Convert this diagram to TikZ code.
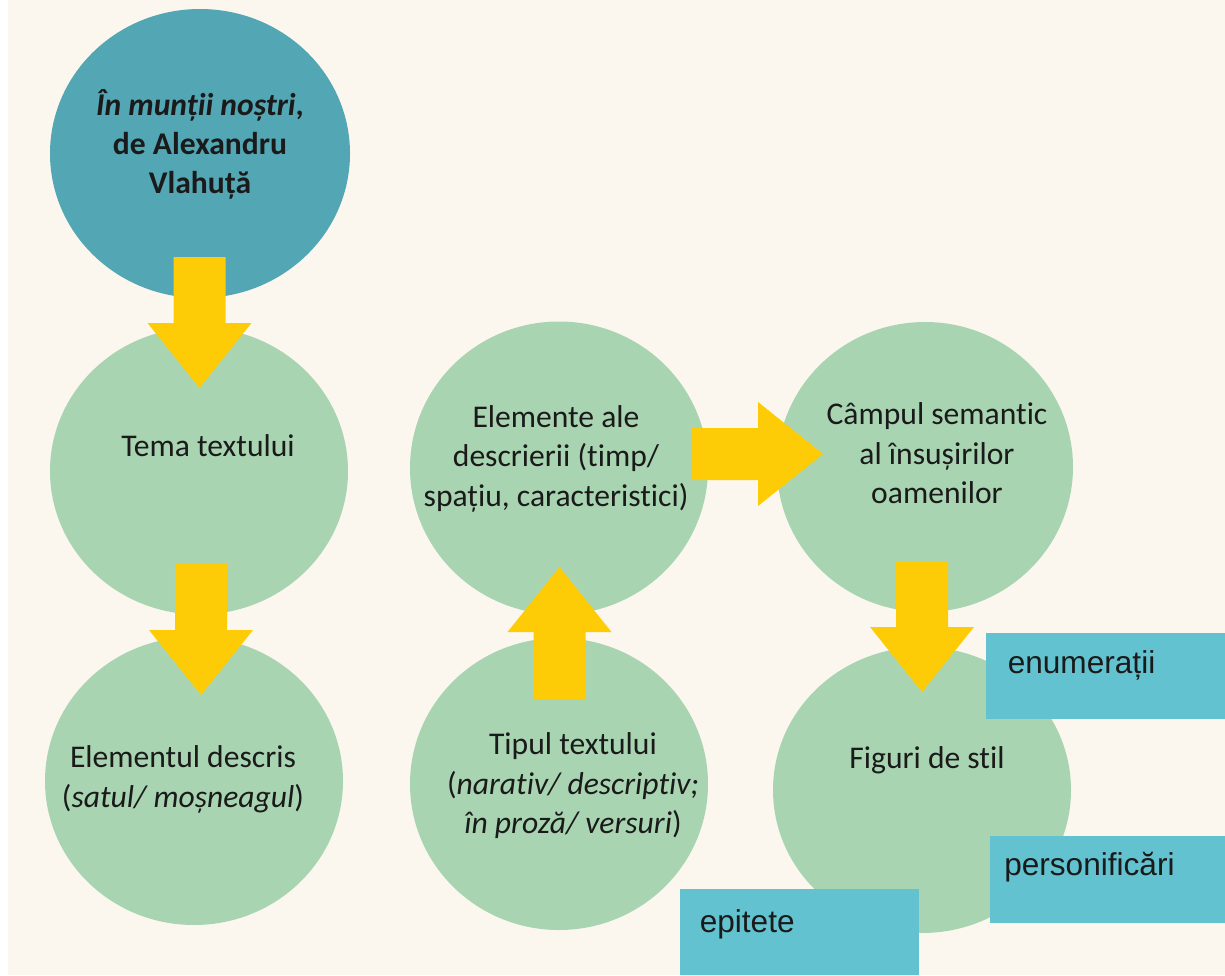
\documentclass[tikz,border=0pt]{standalone}
\usepackage{fontspec}
\setmainfont{Carlito}[Ligatures={NoCommon,NoContextual}]
\newfontfamily\boxfontfam{Liberation Sans}
\usetikzlibrary{shapes.geometric,calc}
\definecolor{bgcream}{HTML}{FBF7EE}
\definecolor{tealc}{HTML}{53A6B3}
\definecolor{greenc}{HTML}{A8D4B1}
\definecolor{yellowc}{HTML}{FECC07}
\definecolor{boxc}{HTML}{62C2D0}
\definecolor{txt}{HTML}{1A1A1A}
\newcommand\circfont{\fontsize{23.7pt}{29.5pt}\selectfont}
\newcommand\bxfont{\boxfontfam\fontsize{23.7pt}{28pt}\selectfont}
% block arrow from tail coordinate #1 to tip coordinate #2
\newcommand\blockarrow[2]{%
  \coordinate (hb) at ($(#2)!48.75pt!(#1)$);
  \fill[arrowfill] ($(#1)!19.5pt!90:(#2)$) -- ($(hb)!19.5pt!90:(#2)$)
    -- ($(hb)!39pt!90:(#2)$) -- (#2) -- ($(hb)!39pt!-90:(#2)$)
    -- ($(hb)!19.5pt!-90:(#2)$) -- ($(#1)!19.5pt!-90:(#2)$) -- cycle;
}
\tikzset{
  bubble/.style={ellipse, inner sep=0pt, draw=none, fill=greenc},
  lbl/.style={align=center, inner sep=0pt, text=txt, font=\circfont},
  tag/.style={fill=boxc, draw=none, inner sep=0pt, anchor=north west},
  tagtxt/.style={anchor=base west, inner sep=0pt, text=txt, font=\bxfont},
  arrowfill/.style={fill=yellowc},
}
\begin{document}
\begin{tikzpicture}[x=0.75pt, y=-0.75pt]
\useasboundingbox (0,0) rectangle (1225,975);
\fill[white] (0,0) rectangle (1225,975);
\fill[bgcream] (8,0) rectangle (1225,975);

% circles
\node[bubble, fill=tealc, minimum width=225pt, minimum height=216.75pt] (c0) at (200,153.5) {};
\node[bubble, minimum width=223.5pt, minimum height=215.25pt] (c1) at (199,471) {};
\node[bubble, minimum width=223.5pt, minimum height=216pt] (c2) at (194,781) {};
\node[bubble, minimum width=223.5pt, minimum height=219.75pt] (c3) at (559,468) {};
\node[bubble, minimum width=223.5pt, minimum height=219pt] (c4) at (559,784) {};
\node[bubble, minimum width=222pt, minimum height=217.5pt] (c5) at (925,467) {};
\node[bubble, minimum width=223.5pt, minimum height=214.5pt] (c6) at (922,790) {};

% arrows
\coordinate (a1s) at (199.5,257); \coordinate (a1e) at (199.5,388);
\coordinate (a2s) at (201,563);   \coordinate (a2e) at (201,695);
\coordinate (a3s) at (559.5,699); \coordinate (a3e) at (559.5,567);
\coordinate (a4s) at (692,454);   \coordinate (a4e) at (823,454);
\coordinate (a5s) at (922,561);   \coordinate (a5e) at (922,692);
\blockarrow{a1s}{a1e}
\blockarrow{a2s}{a2e}
\blockarrow{a3s}{a3e}
\blockarrow{a4s}{a4e}
\blockarrow{a5s}{a5e}

% boxes
\node[tag, minimum width=179.25pt, minimum height=64.5pt] (b1) at (986,633) {};
\node[tag, minimum width=176.25pt, minimum height=65.25pt] (b2) at (990,836) {};
\node[tag, minimum width=179.25pt, minimum height=64.5pt] (b3) at (680,889) {};

% circle texts
\node[lbl, font=\circfont\bfseries] (t0) at (200,146.5)
  {\strut\textit{În munții noștri},\\\strut de Alexandru\\\strut Vlahuță};
\node[lbl] (t1) at (208,449) {\strut Tema textului};
\node[lbl] (t2) at (183,779.6) {\strut Elementul descris\\\strut(\textit{satul/ moșneagul})};
\node[lbl] (t3) at (556,459) {\strut Elemente ale\\\strut descrierii (timp/\\\strut spațiu, caracteristici)};
\node[lbl] (t4) at (573,786.4) {\strut Tipul textului\\\strut(\textit{narativ/ descriptiv;}\\\strut\textit{în proză/ versuri})};
\node[lbl] (t5) at (937,456.4) {\strut Câmpul semantic\\\strut al însușirilor\\\strut oamenilor};
\node[lbl] (t6) at (927,761) {\strut Figuri de stil};

% box texts
\node[tagtxt] (e1) at (1007.5,673) {enumerații};
\node[tagtxt] (e2) at (1004,875) {personificări};
\node[tagtxt] (e3) at (699.5,932) {epitete};
\end{tikzpicture}
\end{document}
